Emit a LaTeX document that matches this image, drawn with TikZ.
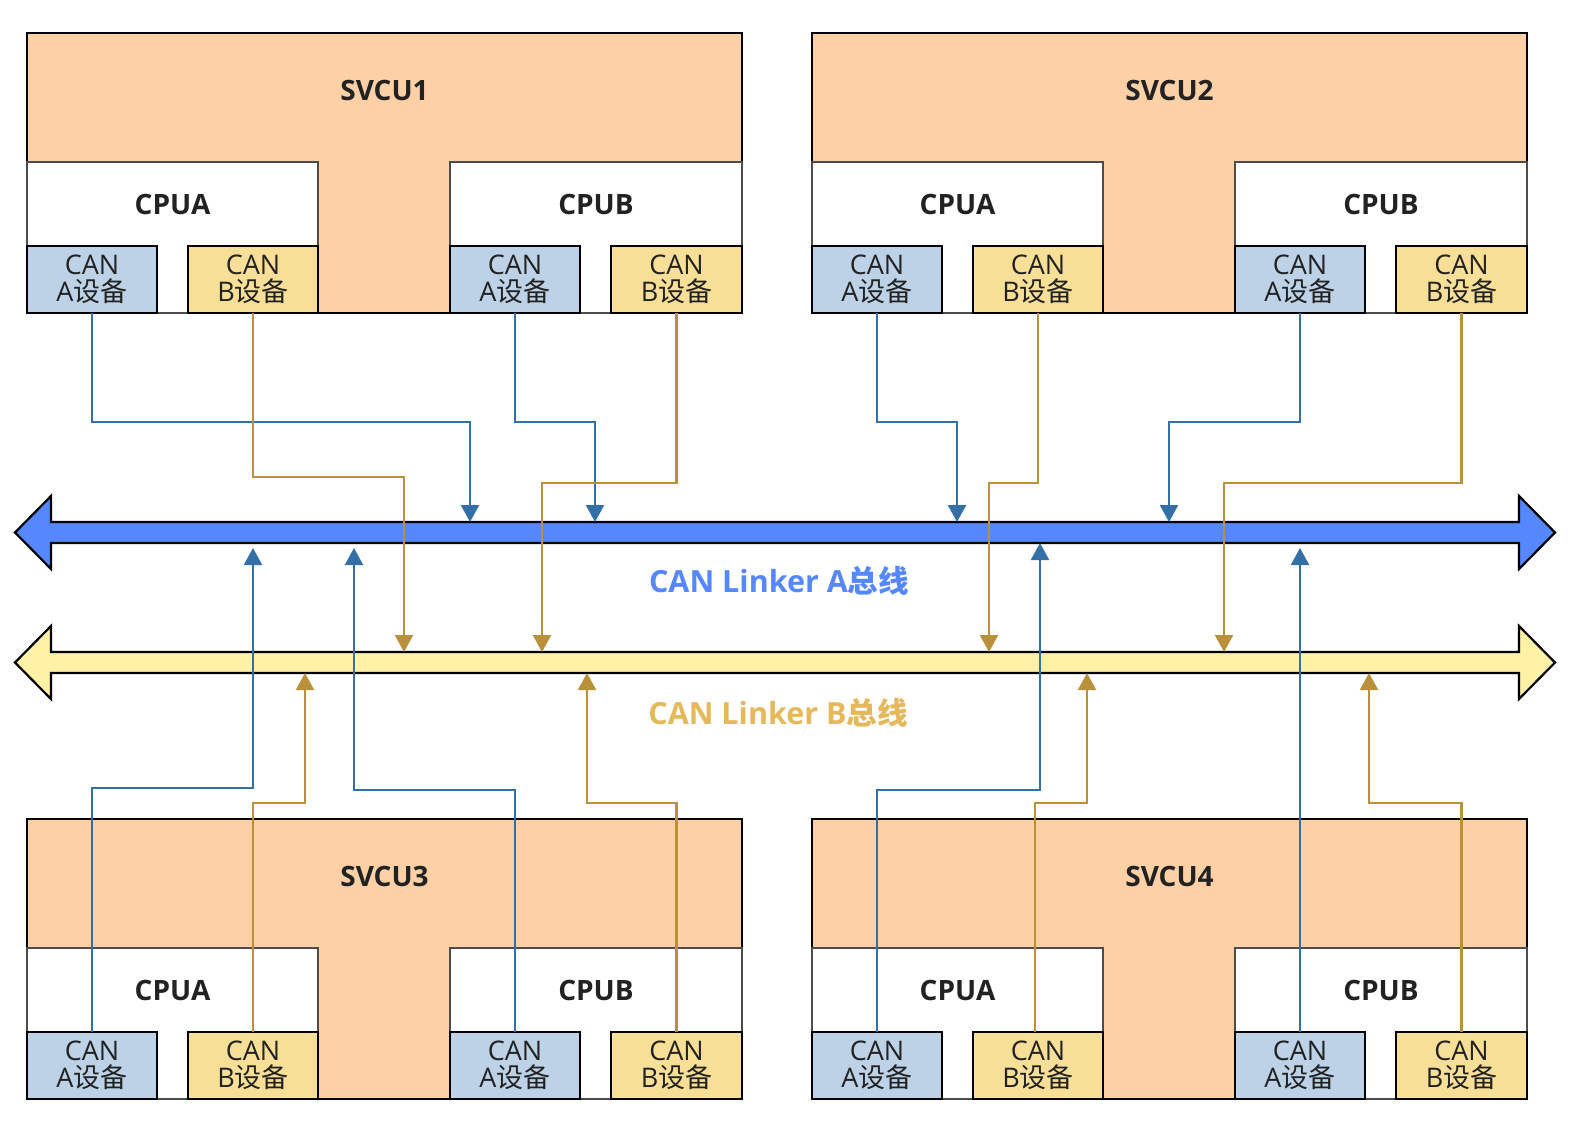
\documentclass[tikz,border=0pt]{standalone}
\usepackage{fontspec}
\setmainfont{Open Sans}
\newfontfamily\cjk{Noto Sans CJK SC}
\usetikzlibrary{arrows.meta}
\usetikzlibrary{positioning}

\definecolor{unitfill}{HTML}{FED0A6}
\definecolor{canafill}{HTML}{BDD2E6}
\definecolor{canbfill}{HTML}{F8DF97}
\definecolor{busafill}{HTML}{5587FF}
\definecolor{busbfill}{HTML}{FFF1A5}
\definecolor{wireblue}{HTML}{3470A8}
\definecolor{wiregold}{HTML}{BA913A}
\definecolor{labelgold}{HTML}{E6B85C}
\definecolor{textdark}{HTML}{222222}

\begin{document}
\begin{tikzpicture}[x=1pt,y=-1pt,
    every node/.style={outer sep=0pt,inner sep=0pt},
    unitbox/.style={draw=black,line width=2.2pt,fill=unitfill,anchor=north west,
      minimum width=715pt,minimum height=280pt},
    cpubox/.style={draw=black!70,line width=2pt,fill=white,anchor=north west,
      minimum width=291pt,minimum height=151pt},
    canbox/.style={draw=black,line width=2.2pt,anchor=north west,align=center,
      minimum width=130pt,minimum height=67pt,text=textdark,
      font=\fontsize{27}{27.5}\selectfont},
    title/.style={text=textdark,font=\fontsize{28}{30}\selectfont\bfseries},
    buslabel/.style={font=\fontsize{30.5}{33}\selectfont\bfseries},
    wirea/.style={draw=wireblue,line width=2.3pt,-{Triangle[width=18pt,length=17pt]}},
    wireb/.style={draw=wiregold,line width=2.3pt,-{Triangle[width=18pt,length=17pt]}},
    bus/.style={draw=black,line width=2.2pt,line join=miter}]
  \useasboundingbox (0,0) rectangle (1570,1144);

  % SVCU units with their CPUs and CAN devices
  \foreach \n/\x/\y in {1/27/33, 2/812/33, 3/27/819, 4/812/819} {
    \node[unitbox] (u\n) at (\x,\y) {};
    \node[title] (u\n-t) at ([yshift=-57pt]u\n.north) {SVCU\n};
    \node[cpubox] (u\n-a) at (\x,\y+129) {};
    \node[cpubox,minimum width=292pt] (u\n-b) at (\x+423,\y+129) {};
    \node[title] (u\n-at) at ([yshift=-42pt]u\n-a.north) {CPUA};
    \node[title] (u\n-bt) at ([yshift=-42pt]u\n-b.north) {CPUB};
    \node[canbox,fill=canafill] (u\n-aa) at (\x,\y+213) {CAN\\A{\cjk 设备}};
    \node[canbox,fill=canbfill] (u\n-ab) at (\x+161,\y+213) {CAN\\B{\cjk 设备}};
    \node[canbox,fill=canafill] (u\n-ba) at (\x+423,\y+213) {CAN\\A{\cjk 设备}};
    \node[canbox,fill=canbfill,minimum width=131pt] (u\n-bb) at (\x+584,\y+213) {CAN\\B{\cjk 设备}};
  }

  % the two buses
  \draw[bus,fill=busafill] (15,532.5) -- (51,496) -- (51,522) coordinate (busAtop)
    -- (1519,522) -- (1519,496) -- (1555,532.5) -- (1519,569) -- (1519,543)
    -- (51,543) coordinate (busAbot) -- (51,569) -- cycle;
  \draw[bus,fill=busbfill] (15,662.5) -- (51,626) -- (51,652) coordinate (busBtop)
    -- (1519,652) -- (1519,626) -- (1555,662.5) -- (1519,699) -- (1519,673)
    -- (51,673) coordinate (busBbot) -- (51,699) -- cycle;
  \node[buslabel,text=busafill] (labA) at (779,581) {CAN Linker A{\cjk 总线}};
  \node[buslabel,text=labelgold] (labB) at (778,713) {CAN Linker B{\cjk 总线}};

  % upper units to the buses
  \draw[wirea] (u1-aa.south) |- (470,422) -- (470,422 |- busAtop);
  \draw[wireb] (u1-ab.south) |- (404,477) -- (404,477 |- busBtop);
  \draw[wirea] (u1-ba.south) |- (595,422) -- (595,422 |- busAtop);
  \draw[wireb] (u1-bb.south) |- (542,483) -- (542,483 |- busBtop);
  \draw[wirea] (u2-aa.south) |- (957,422) -- (957,422 |- busAtop);
  \draw[wireb] (u2-ab.south) |- (989,483) -- (989,483 |- busBtop);
  \draw[wirea] (u2-ba.south) |- (1169,422) -- (1169,422 |- busAtop);
  \draw[wireb] (u2-bb.south) |- (1224,483) -- (1224,483 |- busBtop);

  % lower units to the buses
  \draw[wirea,shorten >=5pt] (u3-aa.north) |- (253,788) -- (253,788 |- busAbot);
  \draw[wireb] (u3-ab.north) |- (305,803) -- (305,803 |- busBbot);
  \draw[wirea,shorten >=5pt] (u3-ba.north) |- (354,790) -- (354,790 |- busAbot);
  \draw[wireb] (u3-bb.north) |- (587,803) -- (587,803 |- busBbot);
  \draw[wirea] (u4-aa.north) |- (1040,790) -- (1040,790 |- busAbot);
  \draw[wireb] ([xshift=-3pt]u4-ab.north) |- (1087,803) -- (1087,803 |- busBbot);
  \draw[wirea,shorten >=5pt] (u4-ba.north) -- (u4-ba.north |- busAbot);
  \draw[wireb] (u4-bb.north) |- (1369,803) -- (1369,803 |- busBbot);
\end{tikzpicture}
\end{document}
